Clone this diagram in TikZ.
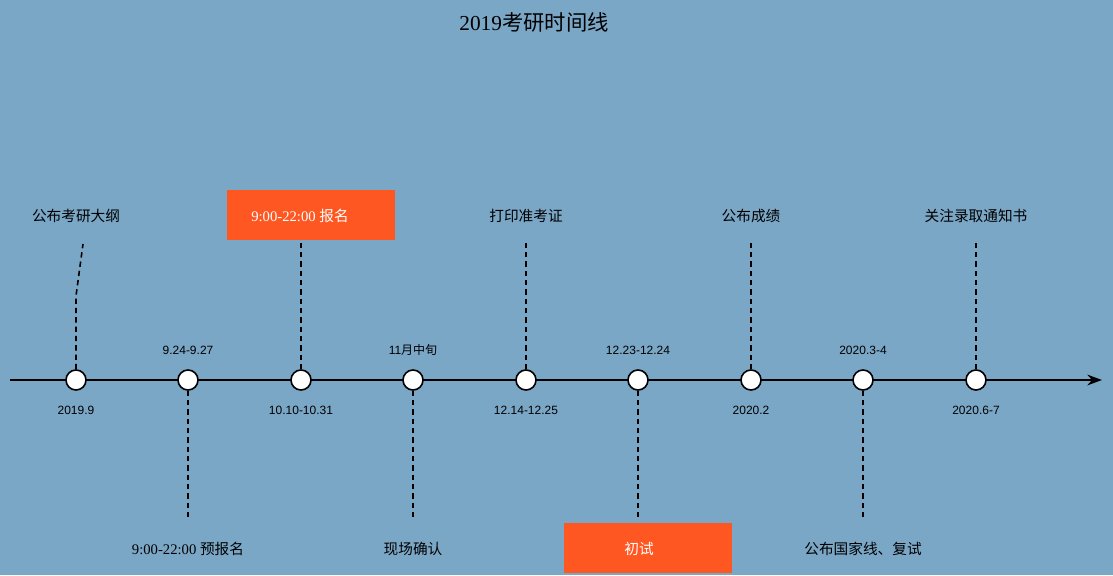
\documentclass[tikz,border=0pt]{standalone}
\usepackage{fontspec}
\setmainfont{Liberation Serif}
\setsansfont{Liberation Sans}
\newfontfamily\cjk{Noto Sans CJK SC}
\usetikzlibrary{positioning,arrows.meta}
\definecolor{bgblue}{HTML}{7BA7C7}
\definecolor{tagorange}{HTML}{FF5722}
\tikzset{
  dot/.style={circle,draw=black,fill=white,line width=1.2pt,minimum size=15pt,inner sep=0pt},
  datelbl/.style={font=\sffamily\fontsize{9}{10}\selectfont},
  eventlbl/.style={font=\fontsize{11}{13}\selectfont},
  tagbox/.style={fill=tagorange,minimum width=126pt,minimum height=37.5pt,inner sep=0pt},
  tagtext/.style={text=white,font=\fontsize{11}{13}\selectfont},
  guide/.style={line width=1.2pt,dash pattern=on 4pt off 3pt}
}
\begin{document}
\begin{tikzpicture}[x=0.75pt,y=-0.75pt]
\fill[bgblue] (0,0) rectangle (1113,575);
\useasboundingbox (0,0) rectangle (1113,575);
\node[font=\fontsize{16}{19}\selectfont] (title) at (534,22) {2019{\cjk 考研时间线}};
% time axis
\coordinate (axl) at (10,380);
\coordinate (axr) at (1102,380);
\draw[line width=1.8pt,-{Stealth[length=11pt,width=8pt]}] (axl) -- (axr);
% dots on the axis
\foreach \n/\x in {a/76,b/188,c/301,d/413,e/526,f/638,g/751,h/863,i/976}
  \node[dot] (\n) at (\x,380) {};
% dates
\node[datelbl] (da) at (76,410) {2019.9};
\node[datelbl] (db) at (188,350) {9.24-9.27};
\node[datelbl] (dc) at (301,410) {10.10-10.31};
\node[datelbl] (dd) at (413,350) {11{\cjk 月中旬}};
\node[datelbl] (de) at (526,410) {12.14-12.25};
\node[datelbl] (df) at (638,350) {12.23-12.24};
\node[datelbl] (dg) at (751,410) {2020.2};
\node[datelbl] (dh) at (863,350) {2020.3-4};
\node[datelbl] (di) at (976,410) {2020.6-7};
% events above
\node[eventlbl] (ea) at (76,216) {\cjk 公布考研大纲};
\node[tagbox] (bc) at (311,215) {};
\node[tagtext] (ec) at (300,216) {9:00-22:00 {\cjk 报名}};
\node[eventlbl] (ee) at (526,216) {\cjk 打印准考证};
\node[eventlbl] (eg) at (751,216) {\cjk 公布成绩};
\node[eventlbl] (ei) at (976,216) {\cjk 关注录取通知书};
% events below
\node[eventlbl] (eb) at (188,549) {9:00-22:00 {\cjk 预报名}};
\node[eventlbl] (ed) at (413,549) {\cjk 现场确认};
\node[tagbox] (bf) at (648,548) {};
\node[tagtext] (ef) at (639,549) {\cjk 初试};
\node[eventlbl] (eh) at (863,549) {\cjk 公布国家线、复试};
% guides
\coordinate (ka) at (76,296);
\coordinate (ta) at (83,244);
\draw[guide] (a) -- (ka) -- (ta);
\draw[guide] (c) -- (301,240);
\draw[guide] (e) -- (526,243);
\draw[guide] (g) -- (751,243);
\draw[guide] (i) -- (976,243);
\draw[guide] (b) -- (188,521);
\draw[guide] (d) -- (413,521);
\draw[guide] (f) -- (638,521);
\draw[guide] (h) -- (863,521);
\end{tikzpicture}
\end{document}
